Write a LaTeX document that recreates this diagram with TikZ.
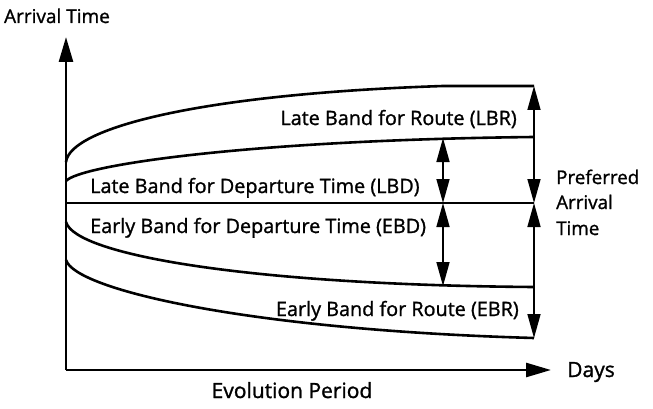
\documentclass[tikz,border=0pt]{standalone}
\usepackage{fontspec}
\setmainfont{Open Sans}
\newfontfamily\lblfont{Open Sans}[FakeBold=1.2]
\usetikzlibrary{arrows.meta}
\begin{document}
\begin{tikzpicture}[x=1pt,y=-1pt,
  lbl/.style={inner sep=0pt, font=\lblfont\fontsize{19.8}{22}\selectfont},
  fs/.style={font=\lblfont\fontsize{#1}{22}\selectfont},
  curve/.style={line width=2.6pt},
  axis/.style={line width=2.6pt, -{Triangle[length=25pt,width=14pt]}},
  dim/.style={line width=1.6pt, {Triangle[length=24pt,width=13pt]}-{Triangle[length=24pt,width=13pt]}}]
\useasboundingbox (0,0) rectangle (653,409);
% axes
\coordinate (O) at (66,370);
\coordinate (ytop) at (66,37);
\coordinate (xend) at (551,370);
\draw[axis] (O) -- (ytop);
\draw[axis] (O) -- (xend);
% band boundaries
\coordinate (a0) at (66,162);
\coordinate (a1) at (443,86);
\coordinate (a2) at (534,86);
\coordinate (b0) at (66,181);
\coordinate (b1) at (534,137);
\coordinate (b2) at (443,138);
\coordinate (p0) at (66,203);
\coordinate (p1) at (534,203);
\coordinate (p2) at (443,203);
\coordinate (c0) at (66,222);
\coordinate (c1) at (534,287);
\coordinate (c2) at (443,286);
\coordinate (d0) at (66,260);
\coordinate (d1) at (534,338);
\draw[curve] (a0) .. controls (70,128) and (200,94) .. (a1) -- (a2);
\draw[curve] (b0) .. controls (80,165) and (250,140) .. (b1);
\draw[curve] (p0) -- (p1);
\draw[curve] (c0) .. controls (75,255) and (250,285) .. (c1);
\draw[curve] (d0) .. controls (75,290) and (250,330) .. (d1);
% dimension arrows
\draw[dim] (b2) -- (p2);
\draw[dim] (p2) -- (c2);
\draw[dim] (a2) -- (p1);
\draw[dim] (p1) -- (d1);
% labels
\node[lbl, anchor=base, fs=19] (ylab) at (57,23) {Arrival Time};
\node[lbl, anchor=base east] (lbr) at (517,125) {Late Band for Route (LBR)};
\node[lbl, anchor=base west] (lbd) at (90,193) {Late Band for Departure Time (LBD)};
\node[lbl, anchor=base west] (ebd) at (90,233) {Early Band for Departure Time (EBD)};
\node[lbl, anchor=base east] (ebr) at (519,316) {Early Band for Route (EBR)};
\node[lbl, anchor=base west, fs=18.8] (pref1) at (556,184) {Preferred};
\node[lbl, anchor=base west, fs=18.8] (pref2) at (556,209) {Arrival};
\node[lbl, anchor=base west, fs=18.8] (pref3) at (556,235) {Time};
\node[lbl, anchor=base west, fs=21] (days) at (567,377) {Days};
\node[lbl, anchor=base, fs=21] (evo) at (292,398) {Evolution Period};
\end{tikzpicture}
\end{document}
